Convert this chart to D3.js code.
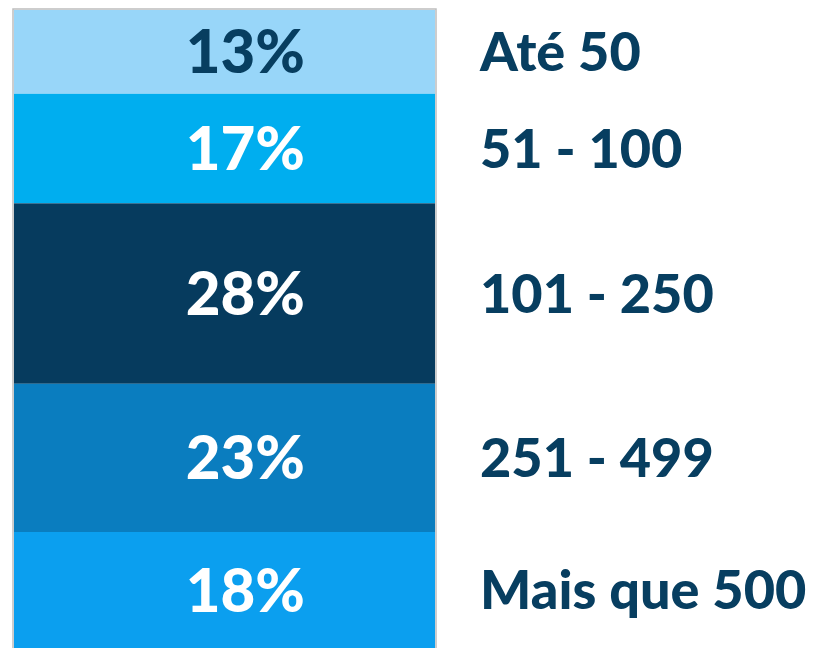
<!DOCTYPE html>
<html>
<head>
<meta charset="utf-8">
<script src="https://cdn.jsdelivr.net/npm/d3@7"></script>
<style>
  html, body { margin: 0; padding: 0; background: #fff; }
  svg { display: block; font-family: Lato, "Open Sans", sans-serif; font-weight: 900; }
</style>
</head>
<body>
<div id="chart-area"></div>
<script>
// faixas de tamanho e a parcela de cada uma
let categories = ["Até 50", "51 - 100", "101 - 250", "251 - 499", "Mais que 500"];
let shares = [13, 17, 28, 23, 18];
let colors = ["#98d6f9", "#00aeef", "#063b5e", "#0a7dbf", "#0b9fef"];
let textColors = ["#073e60", "#fff", "#fff", "#fff", "#fff"];

let width = 836, height = 648;

let svg = d3.select("#chart-area")
            .append("svg")
            .attr("width", width)
            .attr("height", height);

// pilha de cima para baixo
let data = [];
let acc = 0;
shares.forEach(function(v, i){
    data.push({name: categories[i], value: v, y0: acc, y1: acc + v, i: i});
    acc += v;
});

let y = d3.scaleLinear()
        .domain([0, d3.sum(shares)])
        .range([10, height]);

let x = d3.scaleBand()
        .domain(["stack"])
        .range([14, 435])
        .paddingInner(0)
        .paddingOuter(0);

// borda cinza
svg.append("rect")
    .attr("x", x("stack") - 1)
    .attr("y", y(0) - 1)
    .attr("width", x.bandwidth() + 2)
    .attr("height", height - y(0) + 2)
    .attr("fill", "none")
    .attr("stroke", "#bdbdbd")
    .attr("stroke-width", 1.5);

svg.selectAll("rect.seg")
    .data(data)
    .enter()
    .append("rect")
    .attr("class", "seg")
    .attr("x", x("stack"))
    .attr("y", function(d){ return y(d.y0); })
    .attr("width", x.bandwidth())
    .attr("height", function(d){ return y(d.y1) - y(d.y0); })
    .attr("fill", function(d){ return colors[d.i]; });

svg.selectAll("text.pct")
    .data(data)
    .enter()
    .append("text")
    .attr("class", "pct")
    .attr("x", 305)
    .attr("y", function(d){ return (y(d.y0) + y(d.y1)) / 2; })
    .attr("dy", "0.36em")
    .attr("text-anchor", "end")
    .attr("font-size", 60)
    .attr("fill", function(d){ return textColors[d.i]; })
    .text(function(d){ return d.value + "%"; });

svg.selectAll("text.cat")
    .data(data)
    .enter()
    .append("text")
    .attr("class", "cat")
    .attr("x", 480)
    .attr("y", function(d){ return (y(d.y0) + y(d.y1)) / 2; })
    .attr("dy", "0.36em")
    .attr("font-size", 54)
    .attr("fill", "#073e60")
    .text(function(d){ return d.name; });
</script>
</body>
</html>
